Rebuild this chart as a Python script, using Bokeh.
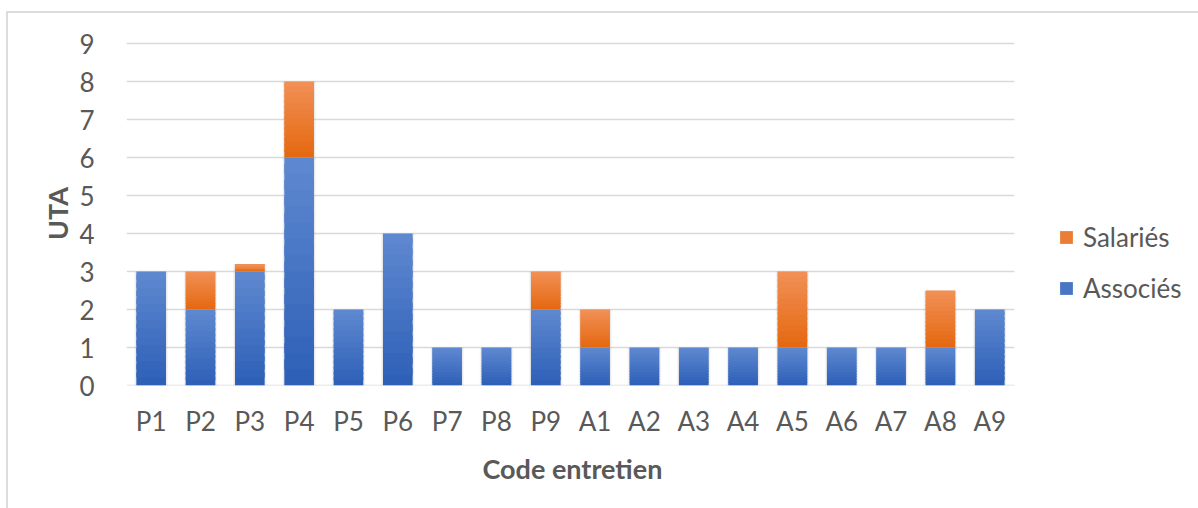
from bokeh.plotting import figure
from bokeh.models import Range1d, FixedTicker, Legend, LegendItem, Title, InlineStyleSheet
from bokeh.embed import file_html
from bokeh.resources import INLINE

categories = ["P1", "P2", "P3", "P4", "P5", "P6", "P7", "P8", "P9",
              "A1", "A2", "A3", "A4", "A5", "A6", "A7", "A8", "A9"]
associes = [3, 2, 3, 6, 2, 4, 1, 1, 2, 1, 1, 1, 1, 1, 1, 1, 1, 2]
salaries = [0, 1, 0.2, 2, 0, 0, 0, 0, 1, 1, 0, 0, 0, 2, 0, 0, 1.5, 0]
y_ticks = [0, 1, 2, 3, 4, 5, 6, 7, 8, 9]

FONT = "Lato"
TXT = "#595959"

xs = list(range(len(categories)))
n = len(categories)

p = figure(x_range=Range1d(-0.5, 21.07), y_range=Range1d(0, 9.053),
           width=1190, height=500, output_backend="svg", toolbar_location=None,
           min_border_left=126, min_border_top=41, min_border_bottom=115,
           min_border_right=0)
p.outline_line_color = None
p.xgrid.grid_line_color = None
p.ygrid.grid_line_color = None
p.stylesheets = [InlineStyleSheet(css=(
    ":host::after { content: ''; position: absolute; left: 6px; top: 11px; "
    "right: -8px; bottom: -8px; border-top: 2px solid #dcdcdc; "
    "border-left: 2px solid #dcdcdc; pointer-events: none; z-index: 10; }"))]

# horizontal gridlines across the category area only
p.segment(x0=[-0.5] * len(y_ticks), x1=[n - 0.5] * len(y_ticks), y0=y_ticks, y1=y_ticks,
          line_color="#d9d9d9", line_width=1.5)


def hexmix(c1, c2, t):
    a = [int(c1[i:i + 2], 16) for i in (1, 3, 5)]
    b = [int(c2[i:i + 2], 16) for i in (1, 3, 5)]
    return "#%02x%02x%02x" % tuple(round(a[k] + (b[k] - a[k]) * t) for k in range(3))


totals = [a + s for a, s in zip(associes, salaries)]
# soft shadow behind bars
for w, al in ((0.68, 0.06), (0.65, 0.08), (0.62, 0.10)):
    p.vbar(x=xs, bottom=0, top=totals, width=w, fill_color="#808080",
           fill_alpha=al, line_color=None)

N = 14
series = [
    (associes, [0] * n, "#2d5fb7", "#5f89d1"),
    (salaries, associes, "#e5680f", "#f19057"),
]
legend_renderers = []
for vals, base, c_bot, c_top in series:
    rs = []
    for k in range(N):
        bot = [b + v * k / N for b, v in zip(base, vals)]
        top = [b + v * min(k + 1.6, N) / N for b, v in zip(base, vals)]
        rs.append(p.vbar(x=xs, bottom=bot, top=top, width=0.6,
                         fill_color=hexmix(c_bot, c_top, (k + 0.5) / N), line_color=None))
    legend_renderers.append(rs[N // 2])

legend = Legend(items=[LegendItem(label="Salariés", renderers=[legend_renderers[1]]),
                       LegendItem(label="Associés", renderers=[legend_renderers[0]])],
                location=(932, 81), padding=0, margin=0, spacing=19,
                glyph_width=16, glyph_height=16, label_standoff=9,
                label_text_font=FONT, label_text_font_size="26px",
                label_text_color=TXT, border_line_color=None,
                background_fill_alpha=0)
p.add_layout(legend)

p.yaxis.ticker = FixedTicker(ticks=y_ticks)
p.xaxis.ticker = FixedTicker(ticks=xs)
p.xaxis.major_label_overrides = {i: c for i, c in zip(xs, categories)}

for ax in (p.xaxis, p.yaxis):
    ax.axis_line_color = None
    ax.major_tick_line_color = None
    ax.minor_tick_line_color = None
    ax.major_label_text_font = FONT
    ax.major_label_text_font_size = "26px"
    ax.major_label_text_color = TXT
    ax.axis_label_text_font = FONT
    ax.axis_label_text_font_size = "27px"
    ax.axis_label_text_font_style = "bold"
    ax.axis_label_text_color = TXT

p.yaxis.axis_label = "UTA"
p.xaxis.major_label_standoff = 13
p.yaxis.major_label_standoff = 26
p.yaxis.axis_label_standoff = 2

xtitle = Title(text="Code entretien", align="left", offset=356, standoff=21,
               text_font=FONT, text_font_size="27px", text_font_style="bold",
               text_color=TXT)
p.add_layout(xtitle, "below")

open("out.html", "w").write(file_html(p, INLINE))
